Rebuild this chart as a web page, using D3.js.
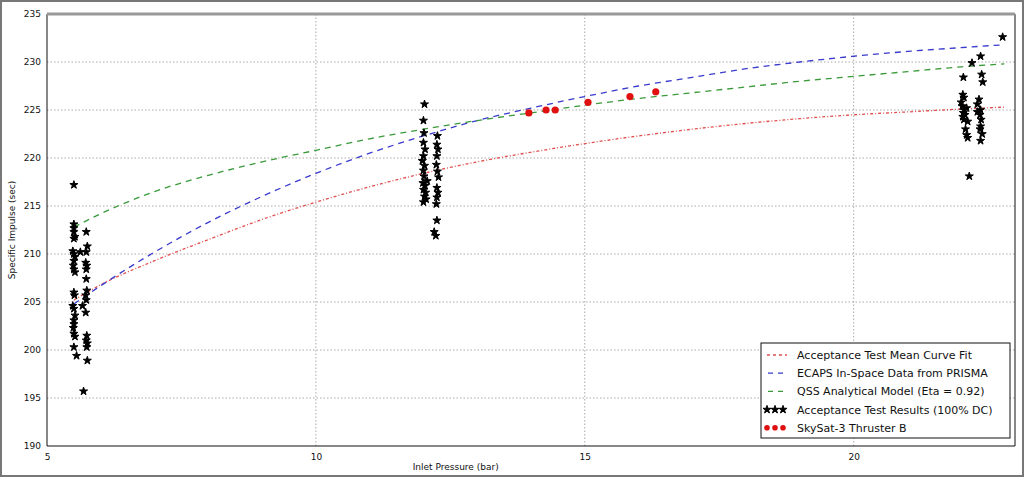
<!DOCTYPE html>
<html>
<head>
<meta charset="utf-8">
<script src="https://cdn.jsdelivr.net/npm/d3@7"></script>
<style>
  body { margin: 0; background: #fff; }
  text { font-family: "DejaVu Sans", sans-serif; fill: #111; }
</style>
</head>
<body>
<div id="chart"></div>
<script>
var width = 1024,
    height = 477,
    margin = {top: 14, right: 9, bottom: 31, left: 47};

// curve samples
var curveX = [5.5, 6, 7, 8, 9, 10, 11, 12, 13, 14, 15, 16, 17, 18, 19, 20, 21, 22, 22.8];
var meanFit = [205.2, 206.8, 209.3, 211.5, 213.6, 215.4, 217.0, 218.4, 219.6, 220.6, 221.5, 222.3, 223.0, 223.6, 224.1, 224.5, 224.8, 225.1, 225.3];
var prismaData = [204.8, 206.7, 210.2, 213.3, 216.0, 218.4, 220.5, 222.3, 223.9, 225.2, 226.4, 227.5, 228.4, 229.3, 230.0, 230.6, 231.1, 231.5, 231.8];
var qssModel = [212.8, 214.2, 216.5, 218.2, 219.6, 220.8, 222.0, 223.0, 223.9, 224.7, 225.5, 226.2, 226.8, 227.4, 228.0, 228.5, 229.0, 229.5, 229.8];

// acceptance test results
var testX = [
  5.5, 5.5, 5.5, 5.5, 5.52, 5.5, 5.48, 5.5, 5.52, 5.5, 5.49, 5.5, 5.52, 5.5, 5.51, 5.48, 5.5, 5.52, 5.5, 5.5, 5.49, 5.5, 5.52, 5.5, 5.55,
  5.73, 5.75, 5.73, 5.72, 5.74, 5.73, 5.73, 5.74, 5.72, 5.73, 5.66, 5.72, 5.74, 5.73, 5.75, 5.74, 5.75, 5.62, 5.68,
  12.02, 12.0, 12.01, 12.0, 12.03, 12.0, 11.98, 12.02, 12.0, 12.01, 11.99, 12.03, 12.0, 12.02, 12.05, 12.0, 12.07, 12.04,
  12.26, 12.25, 12.27, 12.25, 12.24, 12.26, 12.25, 12.27, 12.25, 12.24, 12.25, 12.2, 12.23, 12.28,
  22.04, 22.03, 22.05, 22.0, 22.02, 22.06, 22.04, 22.03, 22.05, 22.08, 22.1, 22.12, 22.15, 22.1, 22.07, 22.12,
  22.36, 22.2, 22.38, 22.4, 22.33, 22.3, 22.36, 22.35, 22.37, 22.36, 22.35, 22.36, 22.77, 22.3, 22.39
];
var testY = [
  217.2, 213.1, 212.7, 212.3, 211.8, 211.6, 210.3, 210.0, 209.7, 209.3, 208.8, 208.4, 208.1, 206.0, 205.7, 204.6, 204.3, 203.6, 203.1, 202.7, 202.3, 201.7, 201.4, 200.3, 199.4,
  212.3, 210.8, 210.2, 209.1, 208.8, 208.4, 207.4, 206.2, 205.7, 205.2, 204.6, 203.9, 201.5, 201.0, 200.7, 200.3, 198.9, 210.2, 195.7,
  225.6, 223.9, 222.6, 221.6, 220.9, 220.2, 219.7, 219.2, 218.7, 218.1, 217.4, 217.1, 216.7, 216.0, 215.7, 215.4, 217.6, 216.4,
  222.3, 221.4, 220.9, 220.2, 219.3, 218.6, 216.9, 216.4, 215.9, 215.2, 213.5, 212.3, 211.9, 218.0,
  228.4, 226.6, 226.3, 225.8, 225.4, 225.0, 224.7, 224.3, 224.0, 223.0, 222.4, 222.1, 218.1, 225.2, 224.5, 223.8,
  230.6, 229.9, 228.7, 227.9, 226.1, 225.6, 225.0, 224.5, 224.0, 223.3, 223.0, 221.8, 232.6, 224.8, 222.5
];
// skysat-3 thruster B
var skyX = [13.96, 14.28, 14.45, 15.06, 15.84, 16.32];
var skyY = [224.7, 225.0, 225.0, 225.8, 226.4, 226.9];

var xTicks = [5, 10, 15, 20];
var yTicks = [190, 195, 200, 205, 210, 215, 220, 225, 230, 235];
var legendLabels = ["Acceptance Test Mean Curve Fit", "ECAPS In-Space Data from PRISMA",
  "QSS Analytical Model (Eta = 0.92)", "Acceptance Test Results (100% DC)", "SkySat-3 Thruster B"];

var svg = d3.select("#chart").append("svg")
    .attr("width", width)
    .attr("height", height);

// picture frame
svg.append("rect")
    .attr("x", 1).attr("y", 1)
    .attr("width", width - 2).attr("height", height - 2)
    .attr("fill", "none").attr("stroke", "#777").attr("stroke-width", 2);

var w = width - margin.left - margin.right,
    h = height - margin.top - margin.bottom;

var x = d3.scaleLinear().domain([5, 23]).range([0, w]);
var y = d3.scaleLinear().domain([190, 235]).range([h, 0]);

var g = svg.append("g")
    .attr("transform", "translate(" + margin.left + "," + margin.top + ")");

// grid
g.append("g").selectAll("line")
    .data(yTicks.slice(1, -1))
  .enter().append("line")
    .attr("x1", 0).attr("x2", w)
    .attr("y1", function(d) { return y(d); }).attr("y2", function(d) { return y(d); })
    .attr("stroke", "#aaa").attr("stroke-dasharray", "1.5,2");
g.append("g").selectAll("line")
    .data(xTicks.slice(1))
  .enter().append("line")
    .attr("y1", 0).attr("y2", h)
    .attr("x1", function(d) { return x(d); }).attr("x2", function(d) { return x(d); })
    .attr("stroke", "#aaa").attr("stroke-dasharray", "1.5,2");

// axes
var xAxis = g.append("g")
    .attr("transform", "translate(0," + h + ")")
    .call(d3.axisBottom(x).tickValues(xTicks).tickSize(0).tickPadding(8));
var yAxis = g.append("g")
    .call(d3.axisLeft(y).tickValues(yTicks).tickSize(0).tickPadding(6));
[xAxis, yAxis].forEach(function(a) {
  a.select(".domain").remove();
  a.selectAll("text").style("font-size", "9px").attr("fill", "#111");
});

// spines
g.append("line").attr("x1", 0).attr("x2", 0).attr("y1", 0).attr("y2", h).attr("stroke", "#111");
g.append("line").attr("x1", 0).attr("x2", w).attr("y1", h).attr("y2", h).attr("stroke", "#111");
g.append("line").attr("x1", w).attr("x2", w).attr("y1", 0).attr("y2", h).attr("stroke", "#111");
g.append("line").attr("x1", 0).attr("x2", w).attr("y1", 0).attr("y2", 0).attr("stroke", "#999").attr("stroke-width", 3);

svg.append("text")
    .attr("x", margin.left + x(12.6)).attr("y", 470)
    .attr("text-anchor", "middle").style("font-size", "9px")
    .text("Inlet Pressure (bar)");
svg.append("text")
    .attr("transform", "translate(15," + (margin.top + h / 2) + ") rotate(-90)")
    .attr("text-anchor", "middle").style("font-size", "9px")
    .text("Specific Impulse (sec)");

// curves
var line = d3.line()
    .x(function(d) { return x(d[0]); })
    .y(function(d) { return y(d[1]); })
    .curve(d3.curveMonotoneX);

var curves = [
  {vals: meanFit, color: "#e05050", dash: "3,2,1,2"},
  {vals: prismaData, color: "#3a3acc", dash: "6,5"},
  {vals: qssModel, color: "#3a9a3a", dash: "6,5"}
];
curves.forEach(function(c) {
  g.append("path")
      .datum(curveX.map(function(v, i) { return [v, c.vals[i]]; }))
      .attr("d", line)
      .attr("fill", "none")
      .attr("stroke", c.color)
      .attr("stroke-width", 1.3)
      .attr("stroke-dasharray", c.dash);
});

var star = d3.symbol().type(d3.symbolStar).size(20);

g.append("g").selectAll("path")
    .data(testX.map(function(v, i) { return [v, testY[i]]; }))
  .enter().append("path")
    .attr("d", star)
    .attr("transform", function(d) { return "translate(" + x(d[0]) + "," + y(d[1]) + ")"; })
    .attr("fill", "#000")
    .attr("stroke", "#000").attr("stroke-width", 1).attr("stroke-linejoin", "round");

g.append("g").selectAll("circle")
    .data(skyX.map(function(v, i) { return [v, skyY[i]]; }))
  .enter().append("circle")
    .attr("cx", function(d) { return x(d[0]); })
    .attr("cy", function(d) { return y(d[1]); })
    .attr("r", 3.6)
    .attr("fill", "#e01010");

// legend
var lg = svg.append("g").attr("transform", "translate(761,343)");
lg.append("rect")
    .attr("width", 249).attr("height", 95)
    .attr("fill", "#fff").attr("stroke", "#111");

legendLabels.forEach(function(label, i) {
  var row = lg.append("g").attr("transform", "translate(0," + (12 + i * 18.2) + ")");
  if (i < 3) {
    row.append("line")
        .attr("x1", 6).attr("x2", 26)
        .attr("stroke", curves[i].color).attr("stroke-width", 1.3)
        .attr("stroke-dasharray", i === 0 ? "3,3" : "5,5")
        .attr("stroke-dashoffset", i === 0 ? 0 : -1);
  } else {
    [6, 14, 22].forEach(function(px) {
      if (i === 3) {
        row.append("path").attr("d", star).attr("transform", "translate(" + px + ",0)")
            .attr("fill", "#000").attr("stroke", "#000").attr("stroke-width", 1).attr("stroke-linejoin", "round");
      } else {
        row.append("circle").attr("cx", px).attr("cy", 0).attr("r", 2.8).attr("fill", "#e01010");
      }
    });
  }
  row.append("text")
      .attr("x", 36).attr("y", 4)
      .style("font-size", "11px")
      .text(label);
});
</script>
</body>
</html>
